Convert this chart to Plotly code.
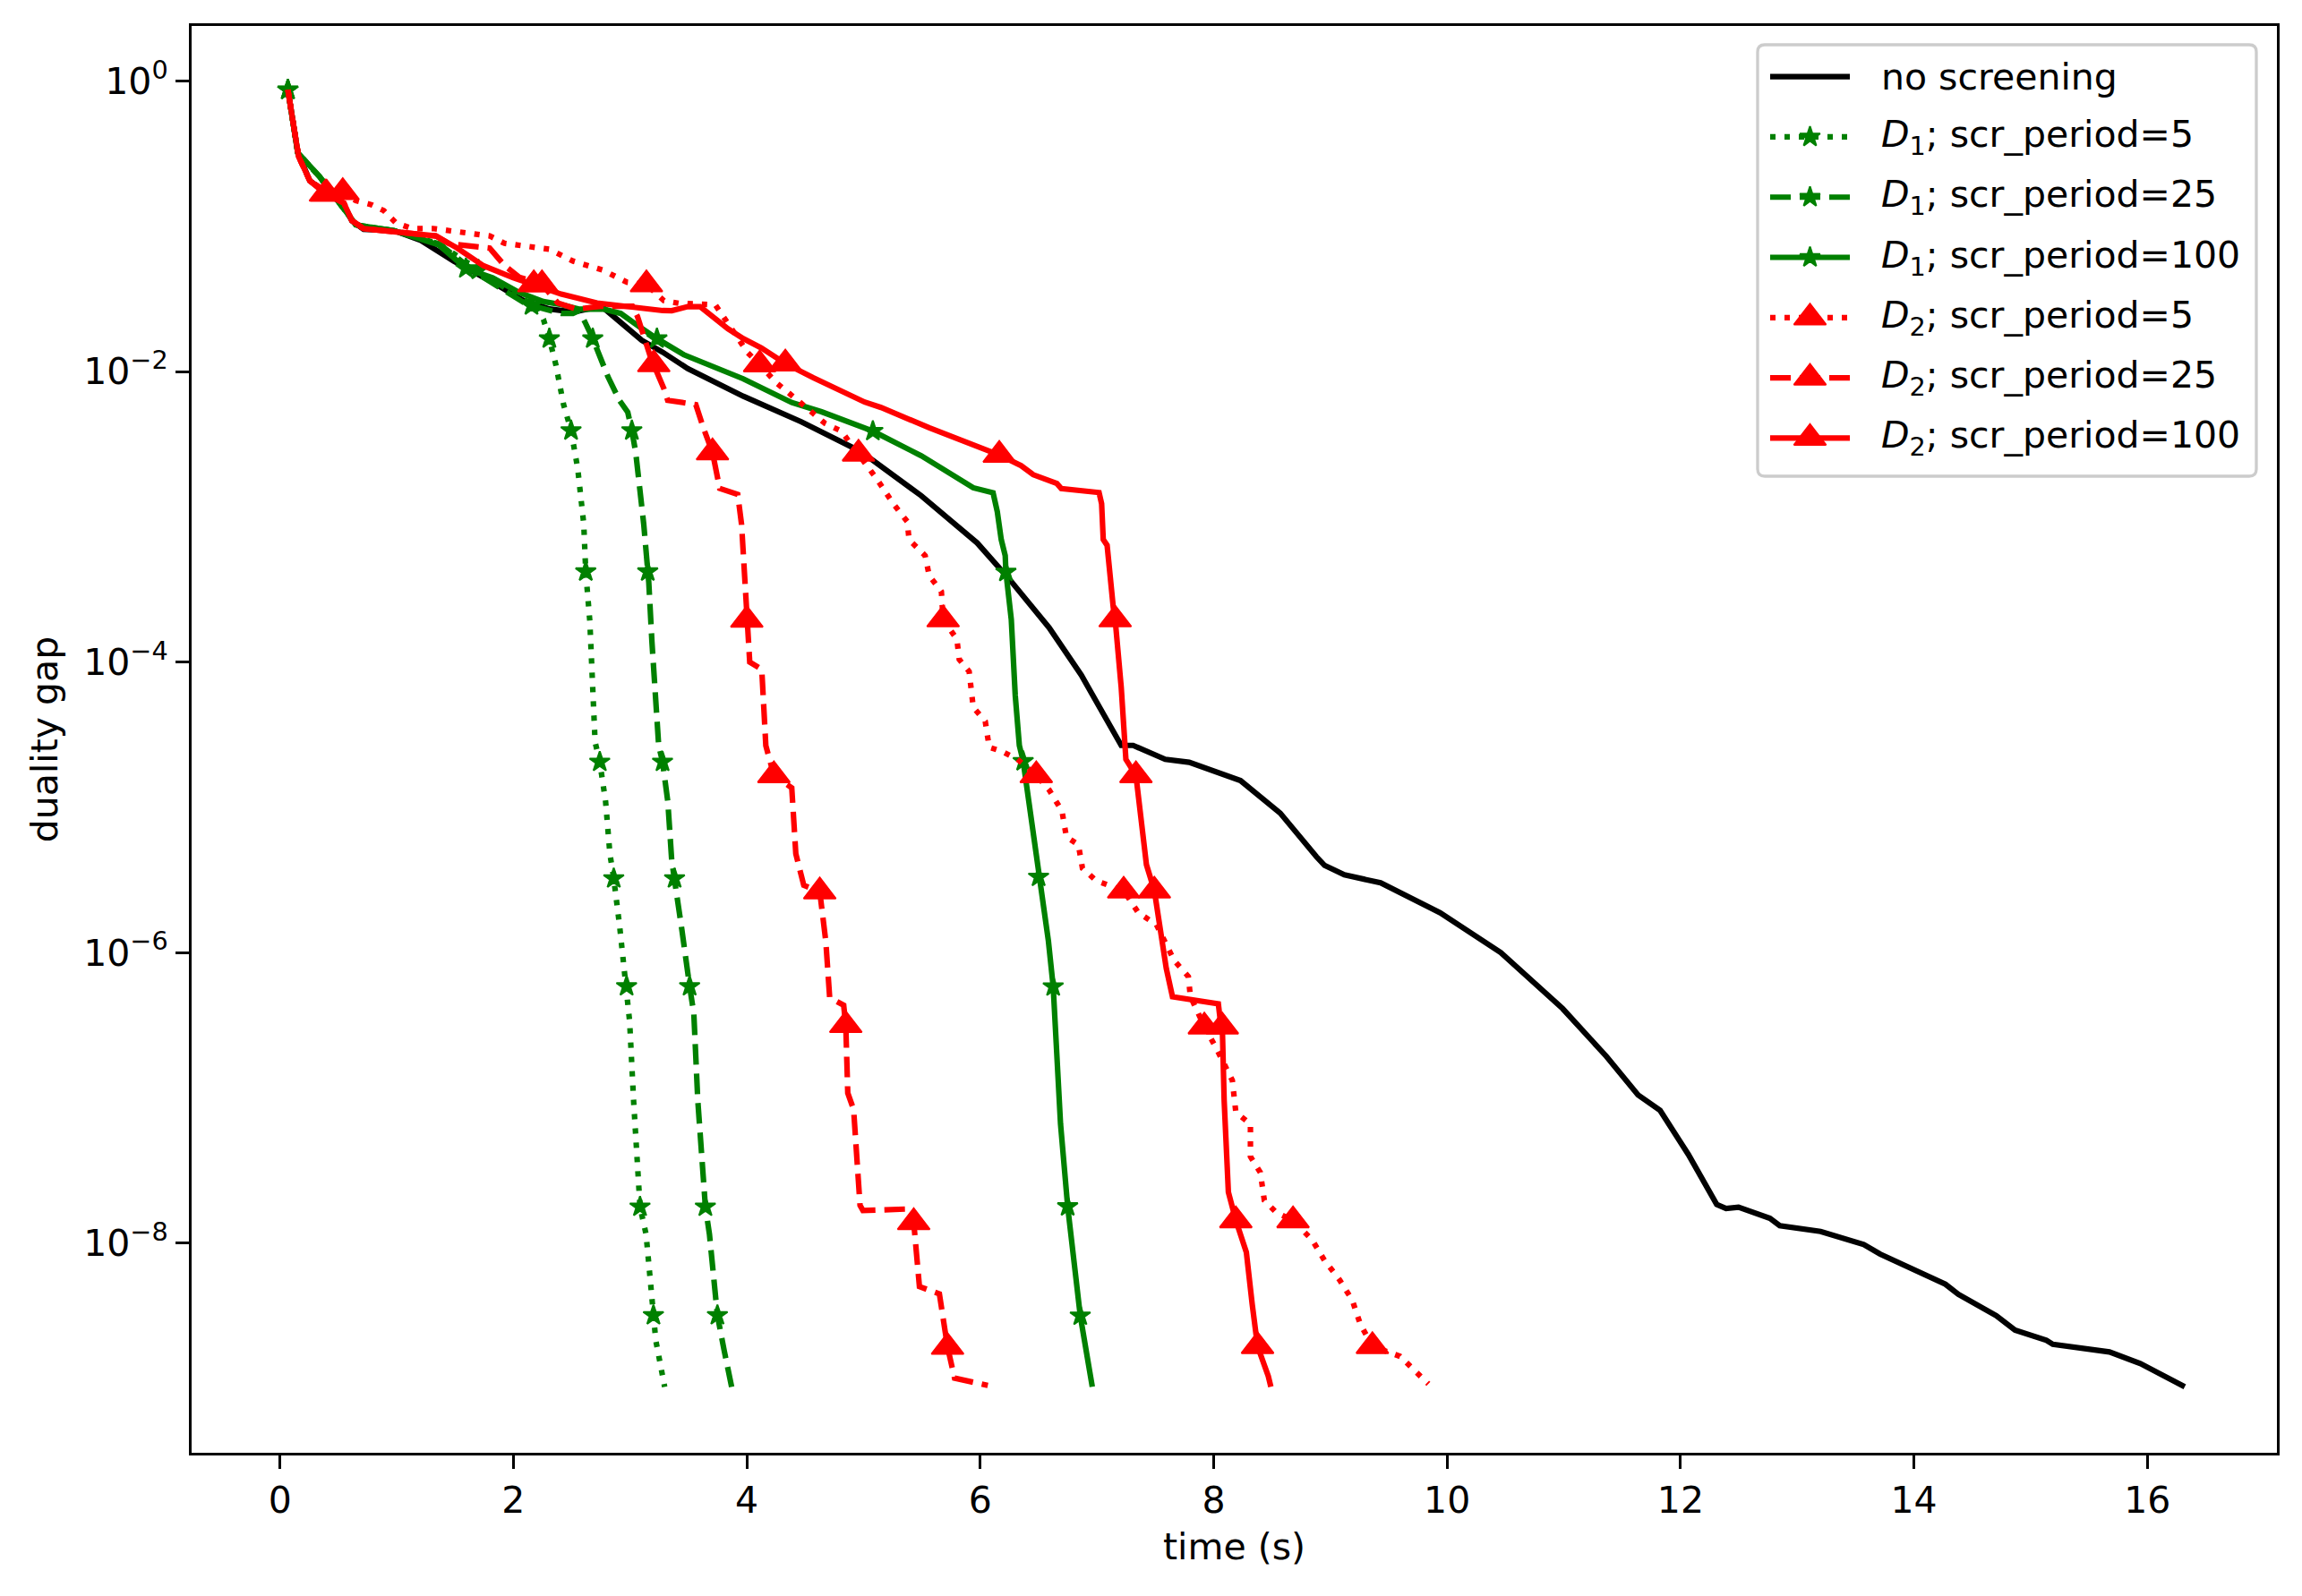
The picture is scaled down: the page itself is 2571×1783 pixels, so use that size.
import plotly.graph_objects as go

# time (s) and log10(duality gap)

# no screening
t_none = [0.068, 0.153, 0.256, 0.548, 0.616, 0.717, 0.978, 1.208, 1.49, 1.822, 2.078, 2.308,
          2.513, 2.64, 2.768, 2.92, 3.10, 3.28, 3.494, 3.97, 4.467, 4.98, 5.495, 5.974,
          6.25, 6.59, 6.866, 7.208, 7.31, 7.585, 7.79, 8.23, 8.57, 8.88, 8.95, 9.12,
          9.43, 9.94, 10.46, 10.99, 11.367, 11.636, 11.825, 12.067, 12.31, 12.39, 12.497,
          12.766, 12.85, 13.2, 13.57, 13.71, 14.27, 14.38, 14.705, 14.866, 15.135, 15.19,
          15.675, 15.94, 16.32]
lg_none = [-0.06, -0.494, -0.687, -0.852, -0.962, -1.021, -1.03, -1.097, -1.24, -1.385, -1.508, -1.569,
           -1.59, -1.569, -1.559, -1.662, -1.785, -1.867, -1.98, -2.17, -2.346, -2.552, -2.855, -3.18,
           -3.43, -3.763, -4.09, -4.574, -4.574, -4.67, -4.69, -4.816, -5.04, -5.34, -5.40, -5.465,
           -5.52, -5.726, -6.0, -6.386, -6.717, -6.98, -7.087, -7.39, -7.734, -7.762, -7.753,
           -7.83, -7.88, -7.92, -8.01, -8.076, -8.284, -8.353, -8.50, -8.6, -8.67, -8.697,
           -8.75, -8.83, -8.99]

# D1, scr_period=5
t_d1_5 = [0.068, 0.153, 0.34, 0.65, 0.978, 1.361, 1.822, 2.078, 2.2, 2.257,
          2.363, 2.43, 2.551, 2.603, 2.655, 2.69, 2.70, 2.79, 2.827, 2.91,
          2.946, 2.996, 3.03, 3.06, 3.137, 3.169, 3.22, 3.296]
lg_d1_5 = [-0.06, -0.494, -0.66, -0.99, -1.03, -1.12, -1.37, -1.50, -1.55, -1.64,
           -1.95, -2.227, -2.666, -3.05, -3.72, -4.27, -4.55, -4.96, -5.32, -5.815,
           -6.06, -6.474, -7.02, -7.435, -7.94, -8.21, -8.67, -8.99]
mt_d1_5 = [0.068, 1.70, 2.308, 2.494, 2.62, 2.74, 2.86, 2.97, 3.085, 3.20]
mlg_d1_5 = [-0.06, -1.30, -1.773, -2.406, -3.377, -4.687, -5.49, -6.232, -7.75, -8.497]

# D1, scr_period=25
t_d1_25 = [0.068, 0.153, 0.34, 0.65, 0.978, 1.361, 1.70, 1.918, 2.12, 2.26,
           2.41, 2.51, 2.565, 2.615, 2.768, 2.81, 2.91, 2.98, 3.048, 3.117,
           3.16, 3.187, 3.22, 3.245, 3.323, 3.357, 3.443, 3.546, 3.58, 3.615,
           3.68, 3.806, 3.87]
lg_d1_25 = [-0.06, -0.494, -0.66, -0.99, -1.03, -1.12, -1.33, -1.443, -1.54, -1.567,
            -1.60, -1.60, -1.58, -1.662, -1.95, -2.035, -2.2, -2.28, -2.556, -3.052,
            -3.45, -3.86, -4.27, -4.576, -4.96, -5.37, -5.84, -6.42, -7.02, -7.435,
            -7.94, -8.74, -8.99]
mt_d1_25 = [0.068, 2.155, 2.68, 3.015, 3.151, 3.278, 3.381, 3.51, 3.645, 3.748]
mlg_d1_25 = [-0.06, -1.545, -1.773, -2.406, -3.377, -4.687, -5.49, -6.232, -7.75, -8.497]

# D1, scr_period=100
t_d1_100 = [0.068, 0.153, 0.34, 0.65, 0.978, 1.361, 1.822, 2.052, 2.257, 2.41,
            2.56, 2.768, 2.92, 3.10, 3.46, 3.70, 3.97, 4.385, 4.64, 5.495,
            5.80, 5.94, 6.11, 6.146, 6.18, 6.214, 6.266, 6.30, 6.335, 6.465,
            6.584, 6.653, 6.688, 6.841, 6.96]
lg_d1_100 = [-0.06, -0.494, -0.657, -0.99, -1.03, -1.128, -1.354, -1.457, -1.518, -1.539,
             -1.57, -1.569, -1.60, -1.703, -1.884, -1.966, -2.05, -2.213, -2.277, -2.58,
             -2.73, -2.80, -2.835, -2.964, -3.157, -3.267, -3.707, -4.23, -4.574, -5.23,
             -5.92, -6.66, -7.18, -8.42, -8.99]
mt_d1_100 = [0.068, 1.593, 3.23, 5.08, 6.22, 6.368, 6.50, 6.625, 6.749, 6.857]
mlg_d1_100 = [-0.06, -1.29, -1.773, -2.41, -3.38, -4.683, -5.479, -6.234, -7.748, -8.5]

# D2, scr_period=5
t_d2_5 = [0.068, 0.16, 0.256, 0.36, 0.65, 0.786, 0.89, 0.993, 1.13, 1.31,
          1.566, 1.797, 1.924, 2.155, 2.308, 2.513, 2.768, 2.973, 3.29, 3.42,
          3.73, 3.87, 4.008, 4.25, 4.43, 4.672, 4.81, 5.118, 5.255, 5.375,
          5.39, 5.528, 5.563, 5.667, 5.80, 5.82, 5.905, 5.94, 6.043, 6.077,
          6.18, 6.317, 6.59, 6.70, 6.738, 6.841, 6.876, 6.995, 7.355, 7.51,
          7.613, 7.662, 7.783, 7.80, 8.023, 8.16, 8.19, 8.315, 8.315, 8.40,
          8.434, 8.537, 8.845, 8.95, 9.08, 9.188, 9.257, 9.597, 9.84]
lg_d2_5 = [-0.06, -0.52, -0.687, -0.74, -0.823, -0.852, -0.892, -0.976, -1.015, -1.015,
           -1.045, -1.066, -1.117, -1.138, -1.158, -1.24, -1.302, -1.385, -1.512, -1.53,
           -1.54, -1.705, -1.87, -2.075, -2.194, -2.358, -2.41, -2.744, -2.91, -3.033,
           -3.157, -3.267, -3.405, -3.514, -3.843, -3.982, -4.065, -4.311, -4.408, -4.587,
           -4.613, -4.668, -4.88, -5.025, -5.203, -5.258, -5.42, -5.506, -5.726, -5.808,
           -5.973, -6.055, -6.165, -6.30, -6.66, -6.88, -7.10, -7.18, -7.405, -7.514,
           -7.706, -7.79, -7.98, -8.12, -8.255, -8.394, -8.56, -8.78, -8.97]
mt_d2_5 = [0.538, 3.14, 4.11, 4.957, 5.682, 6.48, 7.229, 7.92, 8.68, 9.36]
mlg_d2_5 = [-0.765, -1.40, -1.951, -2.566, -3.707, -4.78, -5.574, -6.51, -7.844, -8.71]

# D2, scr_period=25
t_d2_25 = [0.068, 0.16, 0.256, 0.36, 0.548, 0.616, 0.717, 0.978, 1.336, 1.45,
           1.56, 1.797, 1.924, 2.05, 2.38, 2.54, 2.75, 3.02, 3.063, 3.178,
           3.29, 3.322, 3.563, 3.63, 3.768, 3.922, 3.955, 3.99, 4.025, 4.128,
           4.163, 4.385, 4.42, 4.488, 4.677, 4.71, 4.83, 4.865, 4.915, 4.95,
           4.97, 4.995, 5.365, 5.479, 5.65, 5.695, 5.78, 6.065]
lg_d2_25 = [-0.06, -0.52, -0.687, -0.757, -0.84, -0.96, -1.016, -1.035, -1.066, -1.12,
            -1.13, -1.15, -1.27, -1.35, -1.527, -1.57, -1.55, -1.55, -1.62, -1.908,
            -2.118, -2.198, -2.227, -2.392, -2.805, -2.845, -3.052, -3.547, -4.0, -4.05,
            -4.576, -4.866, -5.32, -5.537, -5.924, -6.31, -6.363, -6.967, -7.08, -7.57,
            -7.74, -7.776, -7.766, -8.30, -8.35, -8.624, -8.93, -8.98]
mt_d2_25 = [0.39, 2.245, 3.203, 3.706, 4.0, 4.232, 4.625, 4.848, 5.43, 5.72]
mlg_d2_25 = [-0.776, -1.40, -1.95, -2.557, -3.71, -4.78, -5.58, -6.50, -7.857, -8.716]

# D2, scr_period=100
t_d2_100 = [0.068, 0.16, 0.256, 0.36, 0.548, 0.616, 0.717, 0.978, 1.336, 1.515,
            1.745, 2.0, 2.41, 2.717, 3.025, 3.28, 3.357, 3.494, 3.6, 3.70,
            3.837, 3.97, 4.124, 4.57, 5.01, 5.15, 5.563, 5.836, 6.043, 6.35,
            6.454, 6.657, 6.694, 7.018, 7.04, 7.054, 7.087, 7.14, 7.208, 7.225,
            7.248, 7.362, 7.389, 7.424, 7.527, 7.561, 7.594, 7.647, 8.04, 8.057,
            8.09, 8.126, 8.28, 8.33, 8.468, 8.49]
lg_d2_100 = [-0.06, -0.52, -0.687, -0.757, -0.84, -0.96, -1.016, -1.035, -1.066, -1.148,
             -1.272, -1.354, -1.467, -1.528, -1.559, -1.58, -1.581, -1.553, -1.553, -1.622,
             -1.705, -1.773, -1.837, -2.043, -2.21, -2.247, -2.387, -2.469, -2.537, -2.648,
             -2.71, -2.771, -2.805, -2.833, -2.91, -3.157, -3.196, -3.625, -4.175, -4.42,
             -4.67, -4.97, -5.12, -5.395, -5.753, -5.973, -6.11, -6.304, -6.353, -6.47,
             -7.02, -7.65, -8.063, -8.42, -8.917, -8.99]
mt_d2_100 = [0.40, 2.175, 4.33, 6.163, 7.156, 7.334, 7.492, 8.074, 8.19, 8.376]
mlg_d2_100 = [-0.776, -1.40, -1.945, -2.574, -3.707, -4.78, -5.574, -6.51, -7.844, -8.71]

names = ["no screening",
         "<i>D</i><sub>1</sub>; scr_period=5",
         "<i>D</i><sub>1</sub>; scr_period=25",
         "<i>D</i><sub>1</sub>; scr_period=100",
         "<i>D</i><sub>2</sub>; scr_period=5",
         "<i>D</i><sub>2</sub>; scr_period=25",
         "<i>D</i><sub>2</sub>; scr_period=100"]

FONT = "DejaVu Sans"
FS = 41
LW = 6.2
DOT = "6px,10px"
DASH = "23px,10px"
GREEN = "#008000"
RED = "#ff0000"

series = [
    (t_none, lg_none, [], [], "black", "solid", None),
    (t_d1_5, lg_d1_5, mt_d1_5, mlg_d1_5, GREEN, DOT, "star"),
    (t_d1_25, lg_d1_25, mt_d1_25, mlg_d1_25, GREEN, DASH, "star"),
    (t_d1_100, lg_d1_100, mt_d1_100, mlg_d1_100, GREEN, "solid", "star"),
    (t_d2_5, lg_d2_5, mt_d2_5, mlg_d2_5, RED, DOT, "triangle-up"),
    (t_d2_25, lg_d2_25, mt_d2_25, mlg_d2_25, RED, DASH, "triangle-up"),
    (t_d2_100, lg_d2_100, mt_d2_100, mlg_d2_100, RED, "solid", "triangle-up"),
]
MSIZE = {"star": 17, "triangle-up": 31}


def merge(t, lg, mt, mlg):
    # put the marker points on the line, ordered by decreasing gap
    pts = list(zip(t, lg))
    for a, b in zip(mt, mlg):
        i = next((k for k, p in enumerate(pts) if p[1] < b), len(pts))
        pts.insert(i, (a, b))
    return [p[0] for p in pts], [10 ** p[1] for p in pts]


fig = go.Figure()
for name, (t, lg, mt, mlg, col, dash, sym) in zip(names, series):
    x, y = merge(t, lg, mt, mlg)
    fig.add_trace(go.Scatter(x=x, y=y, mode="lines", name=name, showlegend=False,
                             line=dict(color=col, width=LW, dash=dash)))
    if sym:
        fig.add_trace(go.Scatter(x=mt, y=[10 ** v for v in mlg], mode="markers",
                                 showlegend=False,
                                 marker=dict(symbol=sym, size=MSIZE[sym], color=col,
                                             line=dict(color=col, width=2))))

# legend drawn in pixel units on an overlay axis pair
row0, drow = 85.7, 67.27
x_l0, x_l1, x_txt = 1977, 2066, 2099
for i, (name, s) in enumerate(zip(names, series)):
    col, dash, sym = s[4], s[5], s[6]
    yy = row0 + drow * i
    fig.add_trace(go.Scatter(x=[x_l0, x_l1], y=[yy, yy], xaxis="x2", yaxis="y2",
                             mode="lines", showlegend=False, hoverinfo="skip",
                             line=dict(color=col, width=LW, dash=dash)))
    if sym:
        fig.add_trace(go.Scatter(x=[(x_l0 + x_l1) / 2], y=[yy], xaxis="x2", yaxis="y2",
                                 mode="markers", showlegend=False, hoverinfo="skip",
                                 marker=dict(symbol=sym, size=MSIZE[sym], color=col,
                                             line=dict(color=col, width=2))))
    fig.add_annotation(x=x_txt, y=yy, xref="x2", yref="y2", text=name, showarrow=False,
                       xanchor="left", yanchor="middle",
                       font=dict(family=FONT, size=FS, color="black"))

bx0, by0, bx1, by1, r = 1963, 50, 2520, 532, 8
box = (f"M{bx0 + r},{by0} H{bx1 - r} Q{bx1},{by0} {bx1},{by0 + r} V{by1 - r} "
       f"Q{bx1},{by1} {bx1 - r},{by1} H{bx0 + r} Q{bx0},{by1} {bx0},{by1 - r} "
       f"V{by0 + r} Q{bx0},{by0} {bx0 + r},{by0} Z")
fig.add_shape(type="path", path=box, xref="x2", yref="y2", layer="below",
              line=dict(color="#cccccc", width=3.3), fillcolor="white")

axis_common = dict(showline=True, linecolor="black", linewidth=3.3, mirror=True,
                   ticks="outside", ticklen=15, tickwidth=3.3, tickcolor="black",
                   showgrid=False, zeroline=False, automargin=False,
                   tickfont=dict(family=FONT, size=FS, color="black"))

fig.update_layout(
    width=2571, height=1783,
    margin=dict(l=214, r=28, t=29, b=160),
    paper_bgcolor="white", plot_bgcolor="white",
    font=dict(family=FONT, size=FS, color="black"),
    showlegend=False,
    xaxis=dict(range=[-0.757, 17.11], tickvals=list(range(0, 17, 2)),
               title=dict(text="time (s)", standoff=14,
                          font=dict(family=FONT, size=FS, color="black")),
               **axis_common),
    yaxis=dict(type="log", range=[-9.444, 0.3795],
               tickvals=[1, 1e-2, 1e-4, 1e-6, 1e-8],
               ticktext=["10<sup>0</sup>", "10<sup>\u22122</sup>", "10<sup>\u22124</sup>",
                         "10<sup>\u22126</sup>", "10<sup>\u22128</sup>"],
               title=dict(text="duality gap", standoff=16,
                          font=dict(family=FONT, size=FS, color="black")),
               **axis_common),
    xaxis2=dict(overlaying="x", range=[214, 2543], visible=False),
    yaxis2=dict(overlaying="y", range=[1623, 29], visible=False),
)

fig.write_html("out.html", config={"displayModeBar": False},
               post_script="document.body.style.margin='0';")
